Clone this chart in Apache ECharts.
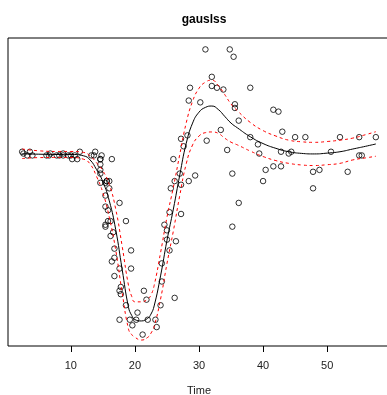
<!DOCTYPE html>
<html>
<head>
<meta charset="utf-8">
<script src="https://cdn.jsdelivr.net/npm/echarts@6/dist/echarts.min.js"></script>
<style>
  html, body { margin: 0; padding: 0; background: #fff; }
  #main { width: 387px; height: 395px; }
</style>
</head>
<body>
<div id="main"></div>
<script>
// ---- data
var times = [2.4,2.6,3.2,3.6,4.0,6.2,6.6,6.8,7.8,8.2,8.8,8.8,9.6,10.0,10.2,10.6,11.0,11.4,13.2,13.6,13.8,
  14.6,14.6,14.6,14.6,14.6,14.6,14.8,15.4,15.4,15.4,15.4,15.4,15.6,15.6,15.8,15.8,16.0,16.0,16.2,16.2,16.4,16.4,
  16.6,16.8,16.8,16.8,17.6,17.6,17.6,17.6,17.8,17.8,18.6,18.6,19.2,19.4,19.4,19.6,20.2,20.4,21.2,21.4,21.8,22.0,
  23.2,23.4,24.0,24.2,24.2,24.6,25.0,25.0,25.4,25.4,25.6,26.0,26.2,26.2,26.4,27.0,27.2,27.2,27.2,27.6,28.2,28.4,
  28.4,28.6,29.4,30.2,31.0,31.2,32.0,32.0,32.8,33.4,33.8,34.4,34.8,35.2,35.2,35.4,35.6,35.6,36.2,36.2,38.0,38.0,
  39.2,39.4,40.0,40.4,41.6,41.6,42.4,42.8,42.8,43.0,44.0,44.4,45.0,46.6,47.8,47.8,48.8,50.6,52.0,53.2,55.0,55.0,
  55.4,57.6];
var accel = [0.0,-1.3,-2.7,0.0,-2.7,-2.7,-2.7,-1.3,-2.7,-2.7,-1.3,-2.7,-2.7,-2.7,-5.4,-2.7,-5.4,0.0,-2.7,-2.7,0.0,
  -13.3,-5.4,-5.4,-9.3,-16.0,-22.8,-2.7,-22.8,-32.1,-53.5,-54.9,-40.2,-21.5,-21.5,-50.8,-42.9,-26.8,-21.5,-50.8,-61.7,-5.4,-80.4,
  -59.0,-71.0,-91.1,-77.7,-37.5,-85.6,-123.1,-101.9,-99.1,-104.4,-112.5,-50.8,-123.1,-85.6,-72.3,-127.2,-123.1,-117.9,-134.0,-101.9,-108.4,-123.1,
  -123.1,-128.5,-112.5,-95.1,-81.8,-53.5,-64.4,-57.6,-72.3,-44.3,-26.8,-5.4,-107.1,-21.5,-65.6,-16.0,-45.6,-24.2,9.5,4.0,12.0,-21.5,
  37.5,46.9,-17.4,36.2,75.0,8.1,54.9,48.2,46.9,16.0,45.6,1.3,75.0,-16.0,-54.9,69.6,34.8,32.1,-37.5,22.8,46.9,10.7,
  5.4,-1.3,-21.5,-13.3,30.8,-10.7,29.4,0.0,-10.7,14.7,-1.3,0.0,10.7,10.7,-26.8,-14.7,-13.3,0.0,10.7,-14.7,-2.7,10.7,
  -2.7,10.7];

// fitted mean and dashed band
var fitTime  = [2.4,5,8,10,12,13,14,15,16,17,18,19,19.5,20,21,22,22.5,23,24,25,26,27,28,29,30,31,32,33,34,35,36,38,40,42,44,46,48,50,52,54,56,57.6];
var fitMean  = [-1.5,-1.8,-2,-2,-3,-6,-13,-22,-36,-57,-86,-114,-120,-123,-124,-122,-119,-113,-91,-65,-42,-17,6,21,29,32.5,33.5,31,26,21,17.5,11,6,2.5,0,-1.2,-1.6,-1,0,2,4,5.7];
var fitUpper = [2.0,0.7,0.2,0.2,-0.5,-3,-8,-14,-24,-42,-69,-98,-106,-110,-110,-108,-105,-98,-74,-48,-26,-2,21,37,46.5,51,52.5,48.5,42,35,30,21.5,15.5,11.5,8.5,7.3,6.9,7.5,8.5,10,12.5,14.7];
var fitLower = [-5,-4.3,-4.2,-4.2,-5.5,-9,-18,-30,-48,-72,-103,-130,-134,-136,-138,-136,-133,-128,-108,-82,-58,-32,-9,5,11.5,14,14.5,13.5,10,7,5,0.5,-3.5,-6.5,-8.5,-9.7,-10.1,-9.5,-8.5,-6,-4.5,-3.3];

var xTicks = [10, 20, 30, 40, 50];

function pairs(xs, ys) {
    var out = [];
    for (var i = 0; i < xs.length; i++) out.push([xs[i], ys[i]]);
    return out;
}

var myChart = echarts.init(document.getElementById('main'));

var dashed = { color: '#ff0000', width: 1, type: [3, 3] };

var option = {
    animation: false,
    backgroundColor: '#fff',
    title: {
        text: 'gauslss',
        left: 199,
        top: 9,
        textAlign: 'center',
        textStyle: { fontFamily: 'Liberation Sans', fontSize: 12, fontWeight: 'bold', color: '#000' }
    },
    grid: {
        left: 8, top: 38, width: 382, height: 308,
        outerBoundsMode: 'none',
        show: true, borderColor: '#000', borderWidth: 1, backgroundColor: 'transparent'
    },
    xAxis: {
        type: 'value',
        min: 0.192,
        max: 59.808,
        name: 'Time',
        nameLocation: 'middle',
        nameGap: 39,
        nameTextStyle: { fontFamily: 'Liberation Sans', fontSize: 11, color: '#222' },
        axisLine: { show: false, onZero: false },
        axisTick: { show: true, customValues: xTicks, length: 6, lineStyle: { color: '#000' } },
        axisLabel: { customValues: xTicks, margin: 14, fontFamily: 'Liberation Sans', fontSize: 11, color: '#222' },
        splitLine: { show: false }
    },
    yAxis: {
        type: 'value',
        min: -142.36,
        max: 83.36,
        show: false,
        splitLine: { show: false }
    },
    series: [
        {
            type: 'scatter',
            data: pairs(times, accel),
            symbol: 'circle',
            symbolSize: 5.5,
            itemStyle: { color: 'rgba(0,0,0,0)', borderColor: '#000', borderWidth: 1 },
            z: 2
        },
        {
            type: 'line', data: pairs(fitTime, fitMean), showSymbol: false, smooth: true,
            lineStyle: { color: '#000', width: 1 }, z: 3
        },
        {
            type: 'line', data: pairs(fitTime, fitUpper), showSymbol: false, smooth: true,
            lineStyle: dashed, z: 3
        },
        {
            type: 'line', data: pairs(fitTime, fitLower), showSymbol: false, smooth: true,
            lineStyle: dashed, z: 3
        }
    ]
};

myChart.setOption(option);
</script>
</body>
</html>
